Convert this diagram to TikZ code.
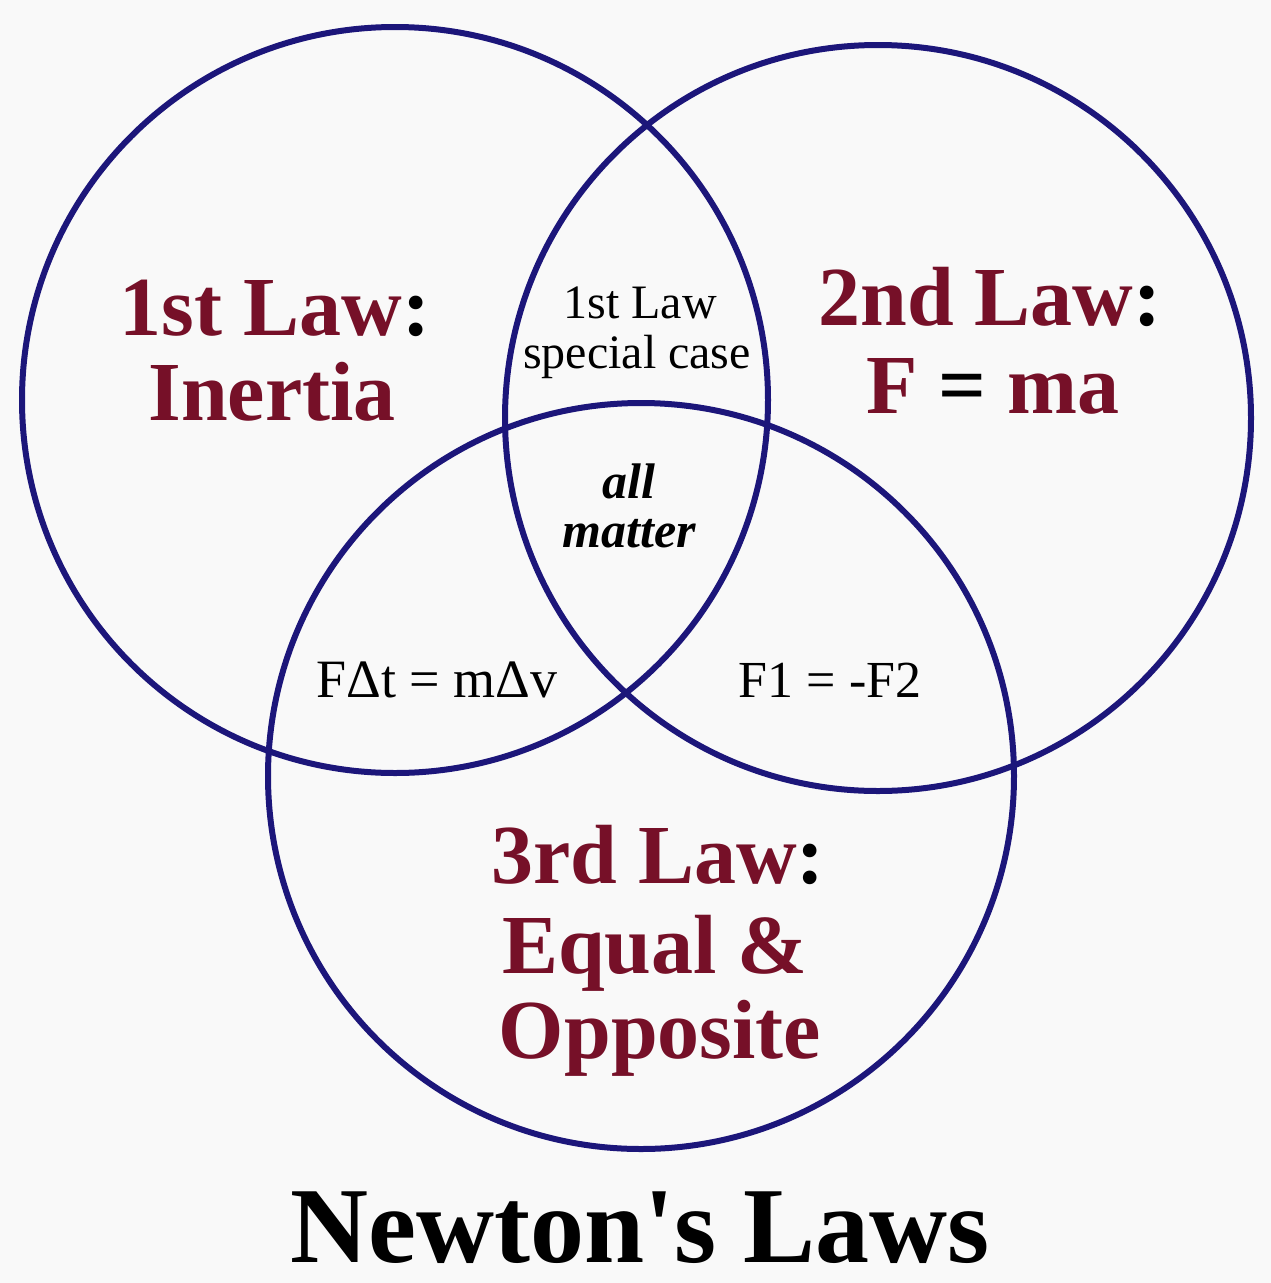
\documentclass[tikz,border=0pt]{standalone}
\usepackage{fontspec}
\setmainfont{Liberation Serif}
\definecolor{lawred}{RGB}{118,16,40}
\definecolor{ringblue}{RGB}{28,22,122}
\definecolor{paper}{RGB}{249,249,249}
\begin{document}
\begin{tikzpicture}[x=1pt,y=-1pt,
  ring/.style={draw=ringblue,line width=6pt,circle,minimum size=746pt,inner sep=0pt},
  bigtxt/.style={anchor=base,inner sep=0pt,font=\fontsize{84}{84}\selectfont\bfseries,text=lawred},
  smalltxt/.style={anchor=base,inner sep=0pt,font=\fontsize{48}{48}\selectfont,text=black},
  titletxt/.style={anchor=base,inner sep=0pt,font=\fontsize{108}{108}\selectfont\bfseries,text=black}]
\fill[paper] (0,0) rectangle (1271,1283);
\useasboundingbox (0,0) rectangle (1271,1283);
\node[ring] (c1) at (395,400) {};
\node[ring] (c2) at (878,418) {};
\node[ring] (c3) at (641,776) {};
% 1st law
\node[bigtxt] (l1a) at (275,335) {1st Law\textcolor{black}{:}};
\node[bigtxt] (l1b) at (272,420) {Inertia};
% 2nd law
\node[bigtxt] (l2a) at (990,325) {2nd Law\textcolor{black}{:}};
\node[bigtxt] (l2b) at (993,413) {F \textcolor{black}{=} ma};
% 3rd law
\node[bigtxt] (l3a) at (658,883) {3rd Law\textcolor{black}{:}};
\node[bigtxt] (l3b) at (655,973) {Equal \&};
\node[bigtxt] (l3c) at (660,1058) {Opposite};
% intersections
\node[smalltxt] (s1) at (640,318) {1st Law};
\node[smalltxt] (s2) at (637,368) {special case};
\node[smalltxt,font=\fontsize{50}{50}\selectfont\bfseries\itshape] (am1) at (629,498) {all};
\node[smalltxt,font=\fontsize{50}{50}\selectfont\bfseries\itshape] (am2) at (629,547) {matter};
\node[smalltxt,font=\fontsize{54}{54}\selectfont] (mom) at (437,697) {FΔt = mΔv};
\node[smalltxt,font=\fontsize{52}{52}\selectfont] (f12) at (830,697) {F1 = -F2};
% title
\node[titletxt] (title) at (640,1262) {Newton\textquotesingle s Laws};
\end{tikzpicture}
\end{document}
